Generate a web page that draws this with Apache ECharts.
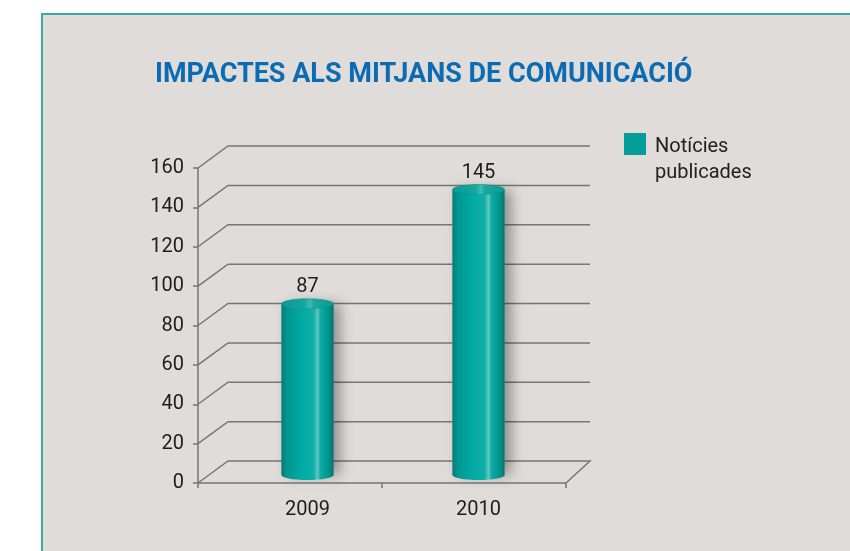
<!DOCTYPE html>
<html><head><meta charset="utf-8">
<script src="https://cdn.jsdelivr.net/npm/echarts@6/dist/echarts.min.js"></script>
<style>
html,body{margin:0;padding:0;background:#fff;width:850px;height:551px;overflow:hidden}
#panel{position:absolute;left:41px;top:13px;width:820px;height:550px;background:#dfdcd9;border-top:2px solid #3aaba2;border-left:2px solid #3aaba2}
#chart{position:absolute;left:0;top:0;width:850px;height:551px}
</style></head><body><div id="panel"></div><div id="chart"></div>
<script>
const titleText = 'IMPACTES ALS MITJANS DE COMUNICACIÓ';
const categories = ['2009', '2010'];
const seriesName = 'Notícies publicades';
const values = [87, 145];
const yTicks = [0, 20, 40, 60, 80, 100, 120, 140, 160];

const FONT = 'Roboto,"Open Sans",sans-serif';
const LINE = '#767676';
const BAR_W = 52;
const DEPTH_L = [30, -22], DEPTH_R = [24, -22];

const chart = echarts.init(document.getElementById('chart'), null, {renderer: 'canvas'});

function grad(stops) {
  return new echarts.graphic.LinearGradient(0, 0, 1, 0, stops.map(c => ({offset: c[0], color: c[1]})));
}

chart.setOption({
  backgroundColor: 'transparent',
  animation: false,
  title: {
    text: titleText, left: 150, top: 56,
    textStyle: {fontFamily: FONT, fontSize: 27, fontWeight: 'bold', color: '#0b6cb4', lineHeight: 29}
  },
  legend: {
    left: 619, top: 108, itemWidth: 22, itemHeight: 22, icon: 'rect',
    data: [{name: seriesName, itemStyle: {color: '#009e97'}}],
    formatter: function (name) {
      const parts = name.split(' ');
      return '{gap| }\n{t|' + parts[0] + '}\n{t|' + parts[1] + '}';
    },
    textStyle: {
      fontFamily: FONT, fontSize: 20, color: '#222', padding: [0, 0, 0, 4],
      rich: {
        gap: {lineHeight: 32, fontSize: 10},
        t: {fontFamily: FONT, fontSize: 20, color: '#222', lineHeight: 26}
      }
    }
  },
  grid: [
    {left: 198, top: 168, width: 368, height: 315},
    {left: 222, top: 160, width: 342, height: 315}
  ],
  xAxis: [
    {type: 'category', gridIndex: 0, data: categories, boundaryGap: true,
     axisLine: {lineStyle: {color: LINE, width: 1.5}},
     axisTick: {show: true, length: 5, lineStyle: {color: LINE, width: 1.5}},
     axisLabel: {show: false}},
    {type: 'value', gridIndex: 0, min: 0, max: 1, show: false},
    {type: 'category', gridIndex: 1, data: categories,
     axisLine: {show: false}, axisTick: {show: false},
     axisLabel: {fontFamily: FONT, fontSize: 20, color: '#1e1e1e', margin: 25}}
  ],
  yAxis: [
    {type: 'value', gridIndex: 0, min: 0, max: 160, interval: 20,
     axisLine: {show: true, lineStyle: {color: LINE, width: 1.5}},
     axisTick: {show: true, length: 5, lineStyle: {color: LINE, width: 1.5}},
     axisLabel: {fontFamily: FONT, fontSize: 20, color: '#1e1e1e', margin: 14},
     splitLine: {show: false}},
    {type: 'value', gridIndex: 1, min: 0, max: 160, show: false}
  ],
  series: [
    {
      type: 'custom', name: 'walls', xAxisIndex: 1, yAxisIndex: 0, silent: true, z: 1,
      data: yTicks.map(v => [0, v]),
      renderItem: function (params, api) {
        const v = api.value(1);
        const a = api.coord([0, v]);
        const b = api.coord([1, v]);
        const pts = [[a[0], a[1]], [a[0] + DEPTH_L[0], a[1] + DEPTH_L[1]], [b[0] + DEPTH_R[0], b[1] + DEPTH_R[1]]];
        if (v === 0) pts.push([b[0], b[1]]);
        return {type: 'polyline', shape: {points: pts}, style: {stroke: LINE, lineWidth: 1.5, fill: null}};
      }
    },
    {
      type: 'custom', name: seriesName, xAxisIndex: 2, yAxisIndex: 1, z: 5,
      itemStyle: {color: '#009e97'},
      data: values.map((v, i) => [i, v]),
      renderItem: function (params, api) {
        const i = api.value(0), v = api.value(1);
        const top = api.coord([i, v]);
        const base = api.coord([i, 0]);
        const cx = top[0], rx = BAR_W / 2, ry = 5;
        const body = [[0, '#007e77'], [0.1, '#00968f'], [0.4, '#00aba3'], [0.62, '#10b0a8'], [0.69, '#62c6c0'], [0.75, '#0daca4'], [0.9, '#00958e'], [1, '#00756f']];
        return {
          type: 'group',
          children: [
            {type: 'rect', shape: {x: cx - rx, y: top[1], width: BAR_W, height: base[1] - top[1]},
             style: {fill: '#8a8a8a', shadowBlur: 12, shadowColor: 'rgba(0,0,0,0.35)', shadowOffsetX: 6, shadowOffsetY: 0}},
            {type: 'ellipse', shape: {cx: cx, cy: base[1], rx: rx, ry: ry}, style: {fill: grad(body)}},
            {type: 'rect', shape: {x: cx - rx, y: top[1], width: BAR_W, height: base[1] - top[1]}, style: {fill: grad(body)}},
            {type: 'ellipse', shape: {cx: cx, cy: top[1], rx: rx, ry: ry},
             style: {fill: grad([[0, '#0a9a93'], [0.45, '#14a79f'], [0.55, '#45b9b2'], [0.62, '#1aa8a0'], [1, '#0b9891']]), stroke: '#08958e', lineWidth: 0.5}},
            {type: 'text', style: {text: String(v), x: cx, y: top[1] - 7, align: 'center', verticalAlign: 'bottom',
             fontFamily: FONT, fontSize: 20, fill: '#1e1e1e'}}
          ]
        };
      }
    }
  ]
});
</script></body></html>
